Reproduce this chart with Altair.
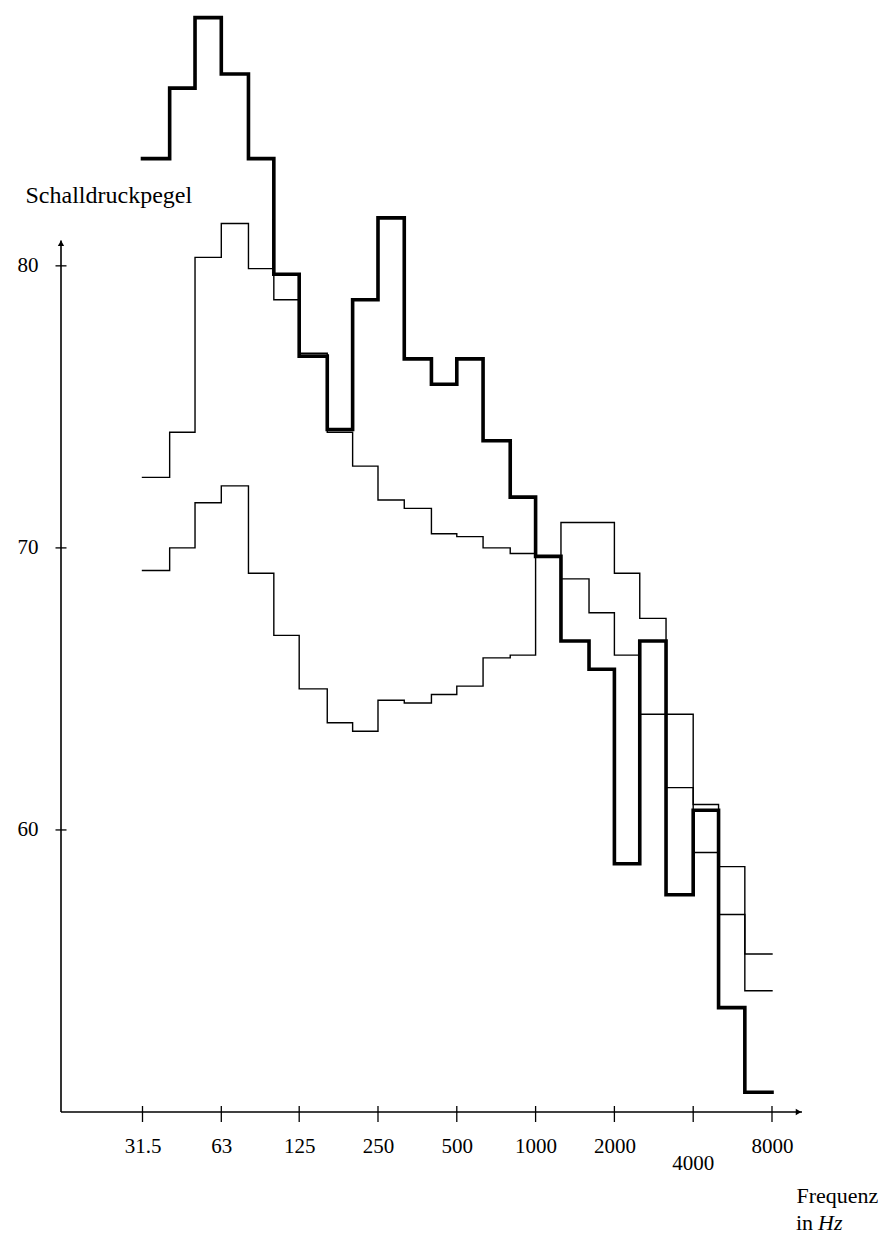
import math
import altair as alt
import pandas as pd

# ---------------- data ----------------
# third-octave centre frequencies; each step runs from one centre to the next
bands = [31.5, 40, 50, 63, 80, 100, 125, 160, 200, 250, 315, 400, 500,
         630, 800, 1000, 1250, 1600, 2000, 2500, 3150, 4000, 5000, 6300, 8000]

level_thick = [83.8, 86.3, 88.8, 86.8, 83.8, 79.7, 76.8, 74.2, 78.8, 81.7,
               76.7, 75.8, 76.7, 73.8, 71.8, 69.7, 66.7, 65.7, 58.8, 66.7,
               57.7, 60.7, 53.7, 50.7]
level_mid = [72.5, 74.1, 80.3, 81.5, 79.9, 78.8, 76.9, 74.1, 72.9, 71.7,
             71.4, 70.5, 70.4, 70.0, 69.8, 69.7, 68.9, 67.7, 66.2, 64.1,
             61.5, 59.2, 57.0, 54.3]
level_low = [69.2, 70.0, 71.6, 72.2, 69.1, 66.9, 65.0, 63.8, 63.5, 64.6,
             64.5, 64.8, 65.1, 66.1, 66.2, 69.7, 70.9, 70.9, 69.1, 67.5,
             64.1, 60.9, 58.7, 55.6]

x_ticks = [31.5, 63, 125, 250, 500, 1000, 2000, 4000, 8000]
y_ticks = [60, 70, 80]
lowered_label = [4000]

y_title = "Schalldruckpegel"
x_title = "Frequenz"
x_unit_prefix = "in"
x_unit = "Hz"

# ---------------- layout / style ----------------
FONT = "Liberation Serif"
W, H = 741, 1100
PX_OCT = 78.8
X0_PX = 81.5                      # pixel of 31.5 Hz inside the plot
XMIN = 31.5 / 2 ** (X0_PX / PX_OCT)
XMAX = XMIN * 2 ** (W / PX_OCT)
Y_DOM = [50, 89]
Y_AXIS_TOP = 80.9
X_ARROW = XMAX / 2 ** (3.5 / PX_OCT)
UNIT_FS = 22


def steps(name, vals):
    return pd.DataFrame({
        "series": name,
        "freq": bands,
        "level": vals + [vals[-1]],
    })


xs = alt.Scale(type="log", base=2, domain=[XMIN, XMAX], nice=False)
ys = alt.Scale(domain=Y_DOM, nice=False, zero=False)

x_axis = alt.Axis(
    values=x_ticks, domain=False, ticks=False, tickSize=0, grid=False,
    labelExpr="datum.value == 4000 ? '' : toString(datum.value)",
    labelFont=FONT, labelFontSize=21, labelColor="black", labelPadding=23,
    labelFlush=False, labelOverlap=False,
    title=x_title, titleFont=FONT, titleFontSize=UNIT_FS, titleFontWeight="normal",
    titleColor="black", titleX=735, titleY=90, titleAlign="left",
    titleBaseline="alphabetic", titleAnchor="start")
y_axis = alt.Axis(
    values=y_ticks, domain=False, ticks=False, tickSize=0, grid=False,
    labelFont=FONT, labelFontSize=21, labelColor="black", labelPadding=23,
    title=y_title, titleFont=FONT, titleFontSize=24, titleFontWeight="normal",
    titleColor="black", titleAngle=0, titleX=-36, titleY=190,
    titleAlign="left", titleBaseline="alphabetic", titleAnchor="start")


def X(field=None, datum=None):
    if datum is not None:
        return alt.X(datum=datum, scale=xs, axis=x_axis)
    return alt.X(field, type="quantitative", scale=xs, axis=x_axis)


def Y(field=None, datum=None):
    if datum is not None:
        return alt.Y(datum=datum, scale=ys, axis=y_axis)
    return alt.Y(field, type="quantitative", scale=ys, axis=y_axis)


def step_layer(df, width):
    return alt.Chart(df).mark_line(
        interpolate="step-after", color="black", strokeWidth=width,
        strokeJoin="miter", strokeCap="square"
    ).encode(x=X("freq"), y=Y("level"))


one = pd.DataFrame({"k": [0]})

y_axis_line = alt.Chart(one).mark_rule(color="black", strokeWidth=1.6).encode(
    x=X(datum=XMIN), y=Y(datum=50), y2=alt.Y2(datum=Y_AXIS_TOP),
)
x_axis_line = alt.Chart(one).mark_rule(color="black", strokeWidth=1.6).encode(
    x=X(datum=XMIN), x2=alt.X2(datum=XMAX), y=Y(datum=50),
)
y_arrow = alt.Chart(one).mark_point(
    shape="triangle-up", filled=True, size=40, color="black", opacity=1
).encode(x=X(datum=XMIN), y=Y(datum=Y_AXIS_TOP - 0.1))
x_arrow = alt.Chart(one).mark_point(
    shape="triangle-right", filled=True, size=40, color="black", opacity=1
).encode(x=X(datum=X_ARROW), y=Y(datum=50))

x_tick_marks = alt.Chart(pd.DataFrame({"freq": x_ticks})).mark_tick(
    orient="vertical", size=16, thickness=1.3, color="black", yOffset=2, opacity=1
).encode(x=X("freq"), y=Y(datum=50))
y_tick_marks = alt.Chart(pd.DataFrame({"level": y_ticks})).mark_tick(
    orient="horizontal", size=11, thickness=1.3, color="black", opacity=1
).encode(x=X(datum=XMIN), y=Y("level"))

low_label = alt.Chart(pd.DataFrame({"freq": lowered_label})).mark_text(
    font=FONT, fontSize=21, color="black", baseline="middle", dy=52
).encode(
    x=X("freq"), y=Y(datum=50),
    text=alt.Text("freq:Q", format="d"),
)

unit_in = alt.Chart(one).mark_text(
    text=x_unit_prefix, font=FONT, fontSize=UNIT_FS, color="black",
    align="left", baseline="alphabetic"
).encode(x=alt.value(735), y=alt.value(1218))
unit_hz = alt.Chart(one).mark_text(
    text=x_unit, font=FONT, fontSize=UNIT_FS, color="black", fontStyle="italic",
    align="left", baseline="alphabetic"
).encode(x=alt.value(757), y=alt.value(1218))

chart = alt.layer(
    step_layer(steps("low", level_low), 1.4),
    step_layer(steps("mid", level_mid), 1.4),
    step_layer(steps("thick", level_thick), 3.6),
    y_axis_line, x_axis_line, y_arrow, x_arrow,
    x_tick_marks, y_tick_marks, low_label, unit_in, unit_hz,
).properties(
    width=W, height=H,
    autosize=alt.AutoSizeParams(type="none"),
    padding={"left": 53, "top": 4, "right": 80, "bottom": 126},
    background="white",
).configure_view(stroke=None)

chart.save("out.html", embed_options={"renderer": "svg", "actions": False})
